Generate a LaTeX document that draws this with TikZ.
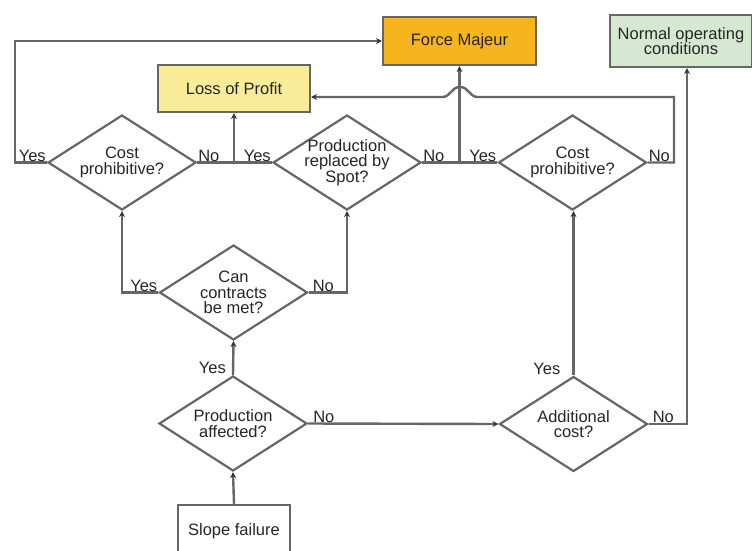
\documentclass[tikz,border=0pt]{standalone}
\usepackage{fontspec}
\setmainfont{Liberation Sans}
\usetikzlibrary{shapes.geometric,arrows.meta}
\definecolor{linegray}{HTML}{666666}
\definecolor{fmorange}{HTML}{F6B51C}
\definecolor{lpyellow}{HTML}{F8EC98}
\definecolor{nocgreen}{HTML}{D6E8D2}

\begin{document}
\begin{tikzpicture}[x=1pt, y=-1pt,
    every node/.style={font=\fontsize{16.5}{15.5}\selectfont, align=center, text=black!85},
    box/.style={draw=linegray, line width=2.2pt, inner sep=0pt},
    ask/.style={diamond, draw=linegray, line width=2.2pt, fill=white,
        minimum width=148pt, minimum height=95pt, inner sep=0pt,
        label={[inner sep=0pt]center:#1}},
    flow/.style={draw=linegray, line width=2.4pt,
        -{Stealth[length=6pt, width=6pt, color=black!80]}},
    link/.style={draw=linegray, line width=2.4pt},
    yn/.style={inner sep=1pt}]
    \useasboundingbox (0,0) rectangle (752,550);

    % outcomes
    \node[box, fill=fmorange, minimum width=153pt, minimum height=48pt] (fm) at (459.5,41) {Force Majeur};
    \node[box, fill=lpyellow, minimum width=152pt, minimum height=47pt] (lp) at (234,88.5) {Loss of Profit};
    \node[box, fill=nocgreen, minimum width=142pt, minimum height=52pt] (noc) at (681,41) {Normal operating\\conditions};

    % decisions
    \node[ask={Cost\\prohibitive?}] (cp1) at (122,162.5) {};
    \node[ask={Production\\replaced by\\Spot?}] (ps) at (347,162.5) {};
    \node[ask={Cost\\prohibitive?}] (cp2) at (572.5,162.5) {};
    \node[ask={Can\\contracts\\be met?}] (cc) at (233.5,292.5) {};
    \node[ask={Production\\affected?}] (pa) at (233,423.5) {};
    \node[ask={Additional\\cost?}] (ac) at (573.5,424) {};

    % start
    \node[box, minimum width=112pt, minimum height=52pt] (sf) at (234,531) {Slope failure};

    % connections
    \draw[flow] (sf.north) -- (pa.south);
    \draw[flow] (pa.north) -- (cc.south);
    \draw[flow] (pa.east) -- (ac.west);
    \draw[flow] (cc.west) -| (cp1.south);
    \draw[flow] (cc.east) -| (ps.south);
    \draw[flow] (ac.north) -- (ac.north |- cp2.south);
    \draw[flow] (ac.east) -| ([xshift=6pt]noc.south);
    \draw[flow] (cp1.west) -- ++(-32,0) |- (fm.west);
    \draw[link] (cp1.east) -- (ps.west);
    \draw[flow] (lp.south |- cp1.east) -- (lp.south);
    \draw[link] (ps.east) -- (cp2.west);
    \draw[flow] (fm.south |- ps.east) -- (fm.south);
    \coordinate (kn) at (674,97);
    \draw[flow] (cp2.east) -| (kn) -- (478,97)
        .. controls (469,97) and (469,87) .. (460,87)
        .. controls (451,87) and (451,97) .. (442,97) -- (kn -| lp.east);

    % yes / no labels
    \node[yn, anchor=south east] (yes1) at (cp1.west) {Yes};
    \node[yn, anchor=south west] (no1) at (cp1.east) {No};
    \node[yn, anchor=south east] (yes2) at (ps.west) {Yes};
    \node[yn, anchor=south west] (no2) at (ps.east) {No};
    \node[yn, anchor=south east] (yes3) at (cp2.west) {Yes};
    \node[yn, anchor=south west] (no3) at (cp2.east) {No};
    \node[yn, anchor=south east] (yes4) at (cc.west) {Yes};
    \node[yn, anchor=south west] (no4) at ([xshift=3pt]cc.east) {No};
    \node[yn, anchor=south east] (yes5) at ([xshift=-6pt]pa.north) {Yes};
    \node[yn, anchor=south west] (no5) at ([xshift=4pt]pa.east) {No};
    \node[yn, anchor=south east] (yes6) at ([xshift=-12pt]ac.north) {Yes};
    \node[yn, anchor=south west] (no6) at ([xshift=3pt]ac.east) {No};
\end{tikzpicture}
\end{document}
